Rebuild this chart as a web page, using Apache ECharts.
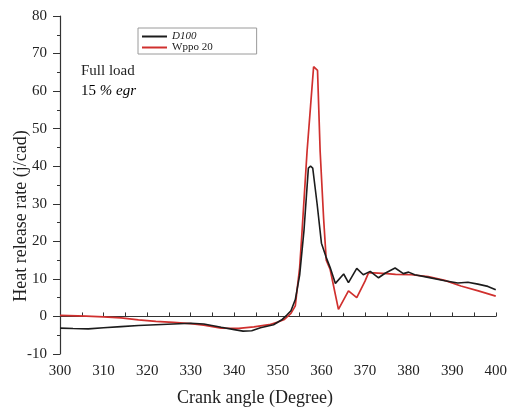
<!DOCTYPE html>
<html>
<head>
<meta charset="utf-8">
<script src="https://cdn.jsdelivr.net/npm/echarts@6/dist/echarts.min.js"></script>
<style>
  html, body { margin: 0; padding: 0; background: #fff; }
  #chart { width: 510px; height: 411px; }
</style>
</head>
<body>
<div id="chart"></div>
<script>
// Heat release rate vs crank angle, full load with 15 % EGR
const seriesNames = ['D100', 'Wppo 20'];

const d100Angle = [300, 303, 306.5, 310, 314, 318, 322, 326, 330, 333, 337, 340, 342, 344, 346, 349, 351, 352, 353, 354, 355, 356, 357, 357.5, 358, 359, 360, 361, 362, 363.2, 365.1, 366.2, 368.1, 369.6, 371.2, 373.1, 374.6, 376.9, 378.8, 380, 381.4, 384.5, 388.3, 391.3, 393.6, 395.9, 398.2, 400];
const d100Hrr   = [-3.1, -3.2, -3.3, -3.0, -2.7, -2.4, -2.2, -2.0, -1.8, -2.0, -2.9, -3.5, -3.9, -3.8, -3.0, -2.2, -0.8, 0.3, 1.5, 4.5, 11, 23, 39.5, 40, 39.5, 30, 19.5, 16, 13, 8.8, 11.3, 9.0, 12.8, 11.1, 12.0, 10.3, 11.5, 12.9, 11.4, 11.8, 11.1, 10.4, 9.5, 8.9, 9.1, 8.6, 8.0, 7.1];

const wppoAngle = [300, 306, 310, 314, 318, 322, 326, 330, 333, 337, 341, 344.5, 348, 350, 351.5, 353, 354, 354.4, 355, 355.5, 356.7, 357.5, 358.2, 359.1, 359.7, 360.5, 361.1, 362, 363.9, 366.2, 368.1, 370, 370.8, 372, 375, 377, 380.7, 384.5, 388.3, 392, 396, 400];
const wppoHrr   = [0.3, 0.1, -0.1, -0.4, -0.9, -1.3, -1.6, -1.9, -2.3, -3.1, -3.2, -2.8, -2.2, -1.5, -0.8, 0.8, 2.8, 7, 13, 21.8, 44, 56, 66.5, 65.5, 44, 26, 15, 12.5, 1.9, 6.8, 5.0, 9.4, 11.6, 11.6, 11.4, 11.2, 11.1, 10.6, 9.6, 8.1, 6.8, 5.4];

const xTicks = { min: 300, max: 400, step: 10 };
const yTicks = { min: -10, max: 80, step: 10 };

function pairs(xs, ys) { return xs.map((x, i) => [x, ys[i]]); }

const serif = 'Liberation Serif';
const chart = echarts.init(document.getElementById('chart'), null, { renderer: 'canvas' });

chart.setOption({
  backgroundColor: '#fff',
  animation: false,
  textStyle: { fontFamily: serif },
  grid: { left: 60, right: 12, top: 16, bottom: 57, containLabel: false },
  legend: {
    orient: 'vertical',
    left: 138, top: 28,
    backgroundColor: '#fff',
    borderColor: '#9a9a9a', borderWidth: 1,
    padding: [3, 44, 1, 4],
    itemGap: 0,
    itemWidth: 25, itemHeight: 2,
    icon: 'rect',
    data: seriesNames,
    formatter: n => n === 'D100' ? '{it|' + n + '}' : '{rm|' + n + '}',
    textStyle: {
      fontFamily: serif, fontSize: 11, color: '#222',
      rich: {
        it: { fontFamily: serif, fontSize: 11, fontStyle: 'italic', color: '#222' },
        rm: { fontFamily: serif, fontSize: 11, color: '#222' }
      }
    }
  },
  xAxis: {
    type: 'value', min: xTicks.min, max: xTicks.max, interval: xTicks.step,
    axisLine: { lineStyle: { color: '#333', width: 1.2 } },
    axisTick: { inside: true, length: 4, lineStyle: { color: '#333' } },
    minorTick: { show: true, splitNumber: 2, length: 4, lineStyle: { color: '#333' } },
    splitLine: { show: false },
    axisLabel: { fontFamily: serif, fontSize: 15, color: '#222', margin: 10 }
  },
  yAxis: {
    type: 'value', min: yTicks.min, max: yTicks.max, interval: yTicks.step,
    axisLine: { show: true, lineStyle: { color: '#333', width: 1.2 } },
    axisTick: { show: true, inside: false, length: 7, lineStyle: { color: '#333' } },
    minorTick: { show: true, splitNumber: 2, length: 3, lineStyle: { color: '#333' } },
    splitLine: { show: false },
    axisLabel: { fontFamily: serif, fontSize: 15, color: '#222', margin: 13 }
  },
  graphic: [
    {
      type: 'text', x: 21, y: 216, rotation: Math.PI / 2,
      style: { text: 'Heat release rate (j/cad)', font: '18px "Liberation Serif"', fill: '#222', align: 'center', verticalAlign: 'middle' }
    },
    {
      type: 'text', x: 255, y: 398,
      style: { text: 'Crank angle (Degree)', font: '18px "Liberation Serif"', fill: '#222', align: 'center', verticalAlign: 'middle' }
    },
    {
      type: 'text', left: 81, top: 64,
      style: { text: 'Full load', font: '15px "Liberation Serif"', fill: '#222' }
    },
    {
      type: 'text', left: 81, top: 84,
      style: {
        text: '{a|15 }{b|% egr}',
        rich: {
          a: { fontFamily: serif, fontSize: 15, color: '#222' },
          b: { fontFamily: serif, fontSize: 15, fontStyle: 'italic', color: '#222' }
        }
      }
    }
  ],
  series: [
    {
      name: seriesNames[0], type: 'line', data: pairs(d100Angle, d100Hrr),
      showSymbol: false, symbol: 'none', z: 3,
      lineStyle: { color: '#1c1c1c', width: 1.6 },
      itemStyle: { color: '#1c1c1c' }
    },
    {
      name: seriesNames[1], type: 'line', data: pairs(wppoAngle, wppoHrr),
      showSymbol: false, symbol: 'none', z: 2,
      lineStyle: { color: '#d0302e', width: 1.7 },
      itemStyle: { color: '#d0302e' }
    }
  ]
});
</script>
</body>
</html>
